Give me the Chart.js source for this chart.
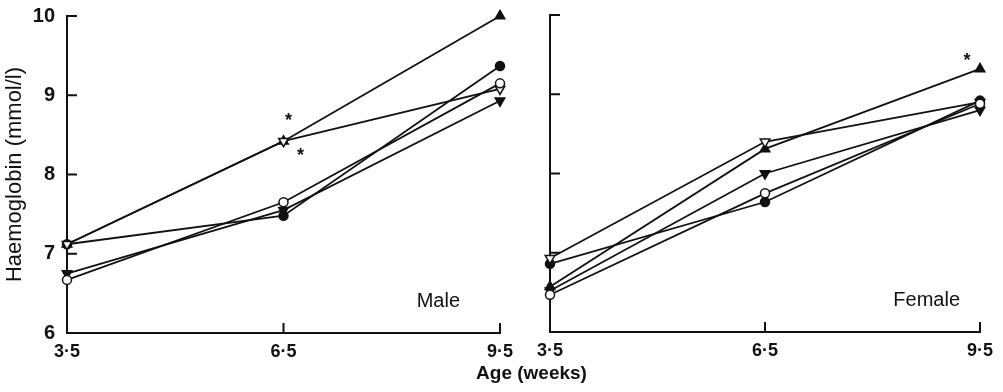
<!DOCTYPE html>
<html>
<head>
<meta charset="utf-8">
<script src="https://cdn.jsdelivr.net/npm/chart.js@4"></script>
<style>
  html, body { margin: 0; padding: 0; background: #fff; }
  #wrap { position: relative; width: 1003px; height: 392px; }
  #cMale { position: absolute; left: 0; top: 0; }
  #cFemale { position: absolute; left: 500px; top: 0; }
  #xTitle {
    position: absolute; left: 0; width: 1063px; top: 362px; text-align: center;
    font: bold 19px "Liberation Sans", Arial, sans-serif; color: #111;
  }
</style>
</head>
<body>
<div id="wrap">
  <canvas id="cMale" width="520" height="392"></canvas>
  <canvas id="cFemale" width="503" height="392"></canvas>
  <div id="xTitle">Age (weeks)</div>
</div>
<script>
// datos
const ages = [3.5, 6.5, 9.5];
const xTickLabels = ["3·5", "6·5", "9·5"];
const yTicks = [6, 7, 8, 9, 10];

// Male
const maleTriUp = [7.12, 8.42, 10.0];
const maleTriDownOpen = [7.12, 8.42, 9.08];
const maleCircleFilled = [7.12, 7.48, 9.37];
const maleCircleOpen = [6.67, 7.65, 9.15];
const maleTriDown = [6.75, 7.55, 8.93];

// Female
const femaleTriUp = [6.57, 8.31, 9.32];
const femaleTriDownOpen = [6.93, 8.40, 8.90];
const femaleCircleFilled = [6.86, 7.64, 8.92];
const femaleCircleOpen = [6.47, 7.75, 8.88];
const femaleTriDown = [6.52, 8.00, 8.80];

// asteriscos (significancia)
const maleStars = [[6.5, 8.72], [6.5, 8.28]];
const femaleStars = [[9.5, 9.47]];

const INK = "#111";
const FONT = '"Liberation Sans", Arial, sans-serif';

function serie(values, style, filled, rotation) {
  return {
    data: values.map((v, i) => ({ x: ages[i], y: v })),
    borderColor: INK,
    borderWidth: 1.8,
    pointStyle: style,
    pointRotation: rotation || 0,
    pointRadius: style === "circle" ? 4.5 : 5.5,
    pointBackgroundColor: filled ? INK : "#fff",
    pointBorderColor: INK,
    pointBorderWidth: 1.5,
    clip: false,
    tension: 0,
  };
}

// marcas de los ejes hacia dentro, etiqueta del panel y asteriscos
const extras = {
  id: "extras",
  afterDraw(chart, args, opts) {
    const ctx = chart.ctx;
    const xs = chart.scales.x, ys = chart.scales.y;
    ctx.save();
    ctx.strokeStyle = INK;
    ctx.lineWidth = 2;
    ctx.beginPath();
    ages.forEach((a) => {
      const px = xs.getPixelForValue(a);
      ctx.moveTo(px, ys.bottom);
      ctx.lineTo(px, ys.bottom - 10);
    });
    yTicks.forEach((t) => {
      const py = ys.getPixelForValue(t);
      ctx.moveTo(xs.left, py);
      ctx.lineTo(xs.left + 10, py);
    });
    ctx.stroke();

    ctx.fillStyle = INK;
    ctx.font = "20px " + FONT;
    ctx.textAlign = "right";
    ctx.textBaseline = "middle";
    ctx.fillText(opts.label, chart.chartArea.right - opts.labelRight, ys.getPixelForValue(6.4));

    ctx.font = "bold 18px " + FONT;
    ctx.textAlign = "center";
    opts.stars.forEach((s, i) => {
      ctx.fillText("*", xs.getPixelForValue(s[0]) + opts.starDx[i], ys.getPixelForValue(s[1]) + 4);
    });
    ctx.restore();
  },
};

function noPad(s) {
  s.paddingTop = 0;
  s.paddingBottom = 0;
  s.paddingLeft = 0;
  s.paddingRight = 0;
}

function makeChart(id, sets, panel) {
  return new Chart(document.getElementById(id), {
    type: "line",
    data: { datasets: sets },
    plugins: [extras],
    options: {
      responsive: false,
      animation: false,
      layout: { padding: { left: 0, top: panel.plotTop, right: panel.padRight, bottom: 0 } },
      plugins: {
        legend: { display: false },
        tooltip: { enabled: false },
        extras: panel,
      },
      scales: {
        x: {
          type: "linear",
          min: 3.5,
          max: 9.5,
          afterBuildTicks: (s) => { s.ticks = ages.map((v) => ({ value: v })); },
          afterFit: (s) => { s.height = 392 - panel.plotBottom; noPad(s); },
          grid: { display: false, drawTicks: false },
          border: { display: true, color: INK, width: 2 },
          ticks: {
            padding: 8,
            color: INK,
            font: { family: FONT, size: 18, weight: "bold" },
            maxRotation: 0,
            callback: (v) => xTickLabels[ages.indexOf(v)],
          },
        },
        y: {
          min: 6,
          max: 10,
          afterBuildTicks: (s) => { s.ticks = yTicks.map((v) => ({ value: v })); },
          afterFit: (s) => { s.width = panel.axisLeft; noPad(s); },
          grid: { display: false, drawTicks: false },
          border: { display: true, color: INK, width: 2 },
          ticks: {
            display: panel.showY,
            padding: 12,
            color: INK,
            font: { family: FONT, size: 20, weight: "bold" },
          },
          title: {
            display: panel.showY,
            text: "Haemoglobin (mmol/l)",
            color: INK,
            font: { family: FONT, size: 22 },
            padding: { top: 2, bottom: 0 },
          },
        },
      },
    },
  });
}

makeChart("cMale", [
  serie(maleCircleOpen, "circle", false),
  serie(maleTriDownOpen, "triangle", false, 180),
  serie(maleTriDown, "triangle", true, 180),
  serie(maleCircleFilled, "circle", true),
  serie(maleTriUp, "triangle", true),
], {
  label: "Male", labelRight: 40, stars: maleStars, starDx: [5, 17],
  padRight: 20, axisLeft: 67, plotTop: 16, plotBottom: 333, showY: true,
});

makeChart("cFemale", [
  serie(femaleCircleOpen, "circle", false),
  serie(femaleTriDownOpen, "triangle", false, 180),
  serie(femaleTriDown, "triangle", true, 180),
  serie(femaleCircleFilled, "circle", true),
  serie(femaleTriUp, "triangle", true),
], {
  label: "Female", labelRight: 20, stars: femaleStars, starDx: [-13],
  padRight: 23, axisLeft: 50, plotTop: 15, plotBottom: 332, showY: false,
});
</script>
</body>
</html>
